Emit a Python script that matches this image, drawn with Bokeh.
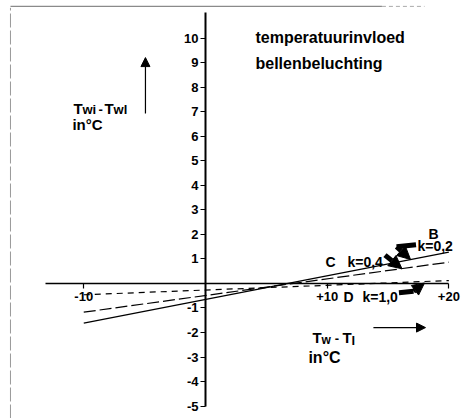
from bokeh.plotting import figure
from bokeh.models import FixedTicker, Arrow, NormalHead
from bokeh.core.properties import value
from bokeh.embed import file_html
from bokeh.resources import INLINE

# ---- data ----
x_ticks = [-10, 10, 20]
x_tick_labels = ["-10", "+10", "+20"]
y_ticks = [10, 9, 8, 7, 6, 5, 4, 3, 2, 1, -1, -2, -3, -4, -5]
y_tick_labels = ["10", "9", "8", "7", "6", "5", "4", "3", "2", "1", "-1", "-2", "-3", "-4", "-5"]

dT = [-10, 20]                 # Tw - Tl (°C)
B_k02 = [-1.62, 1.28]          # Twi - Twl, curve B, k=0,2
C_k04 = [-1.17, 0.87]          # curve C, k=0,4
D_k10 = [-0.46, 0.12]          # curve D, k=1,0

FONT = "Liberation Sans"

p = figure(width=462, height=418, x_range=(-16.84, 21.12), y_range=(-5.51, 11.55),
           output_backend="svg", toolbar_location=None, min_border=0)
p.grid.visible = False
p.outline_line_color = None
p.background_fill_color = "white"
p.border_fill_color = "white"

# axes crossing at origin
p.xaxis.fixed_location = 0
p.yaxis.fixed_location = 0
p.xaxis.ticker = FixedTicker(ticks=x_ticks, minor_ticks=[])
p.yaxis.ticker = FixedTicker(ticks=y_ticks, minor_ticks=[])
p.xaxis.major_label_overrides = dict(zip(x_ticks, x_tick_labels))
p.yaxis.major_label_overrides = dict(zip(y_ticks, y_tick_labels))
p.xaxis.bounds = (-13.15, 20)
p.yaxis.bounds = (-5, 11.06)
p.xaxis.axis_line_width = 1.6
p.yaxis.axis_line_width = 2
for ax in (p.xaxis, p.yaxis):
    ax.axis_line_color = "black"
    ax.major_tick_line_color = "black"
    ax.major_tick_line_width = 1.2
    ax.major_tick_in = 0
    ax.major_tick_out = 5
    ax.minor_tick_out = 0
    ax.minor_tick_in = 0
    ax.major_label_text_font = FONT
    ax.major_label_text_font_style = "bold"
    ax.major_label_text_font_size = "13px"
    ax.major_label_text_color = "black"
p.xaxis.major_label_standoff = 4
p.yaxis.major_label_standoff = 2

# scan border remnants
p.line([-16.02, -16.02], [-5.51, 11.25], line_color="#9a9a9a", line_width=1, line_dash="14 3")
p.line([-16.02, 14.5], [11.31, 11.31], line_color="#8a8a8a", line_width=1.2)
p.line([14.5, 18.0], [11.31, 11.31], line_color="#aaaaaa", line_width=1, line_dash="4 3")

# curves
p.line(dT, B_k02, line_color="black", line_width=1.3)
p.line(dT, C_k04, line_color="black", line_width=1.2, line_dash="12 4")
p.line(dT, D_k10, line_color="black", line_width=1.2, line_dash="6 5")


def txt(x, y, s, size, align="left"):
    p.text(x=[x], y=[y], text=[s], text_font=value(FONT), text_font_style="bold",
           text_font_size=size, text_align=align, text_baseline="alphabetic",
           text_color="black")


# title
txt(4.11, 10.04, "temperatuurinvloed", "16px")
txt(4.11, 8.98, "bellenbeluchting", "16px")

# y-axis label
txt(-10.85, 7.15, "T", "15px")
txt(-10.11, 7.11, "wi", "13px")
txt(-8.79, 7.11, "-", "13px")
txt(-8.30, 7.15, "T", "15px")
txt(-7.55, 7.11, "wl", "13px")
txt(-10.93, 6.47, "in°C", "15px")
p.add_layout(Arrow(x_start=-4.93, y_start=6.94, x_end=-4.93, y_end=9.22, line_width=1.2,
                   line_color="black",
                   end=NormalHead(size=9, fill_color="black", line_color="black")))

# x-axis label
txt(8.79, -2.20, "T", "15px")
txt(9.53, -2.29, "w", "12px")
txt(10.62, -2.24, "-", "13px")
txt(11.26, -2.20, "T", "15px")
txt(12.0, -2.33, "l", "13px")
txt(8.46, -3.02, "in°C", "16px")
p.add_layout(Arrow(x_start=13.8, y_start=-1.80, x_end=18.08, y_end=-1.80, line_width=1.2,
                   line_color="black",
                   end=NormalHead(size=9, fill_color="black", line_color="black")))

# curve labels
txt(18.32, 2.04, "B", "14px")
txt(17.42, 1.55, "k=0,2", "14px")
txt(9.86, 0.86, "C", "14px")
txt(11.67, 0.86, "k=0,4", "14px")
txt(11.34, -0.57, "D", "14px")
txt(12.90, -0.57, "k=1,0", "14px")

# thick pointer arrows
p.line([17.3, 15.7], [1.58, 1.50], line_color="black", line_width=5)
p.add_layout(Arrow(x_start=15.7, y_start=1.50, x_end=16.85, y_end=0.98, line_width=5,
                   line_color="black",
                   end=NormalHead(size=13, fill_color="black", line_color="black")))
p.add_layout(Arrow(x_start=14.75, y_start=1.16, x_end=16.15, y_end=0.60, line_width=5,
                   line_color="black",
                   end=NormalHead(size=13, fill_color="black", line_color="black")))
p.line([15.9, 17.1], [-0.38, -0.32], line_color="black", line_width=5)
p.add_layout(Arrow(x_start=17.1, y_start=-0.32, x_end=18.0, y_end=0.02, line_width=5,
                   line_color="black",
                   end=NormalHead(size=12, fill_color="black", line_color="black")))

open("out.html", "w").write(file_html(p, INLINE))
